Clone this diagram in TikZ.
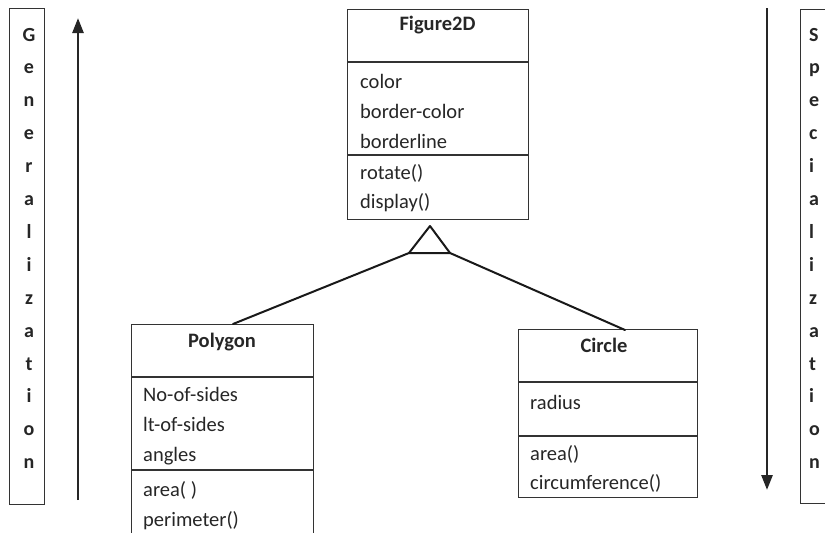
\documentclass[tikz,border=0pt]{standalone}
\usepackage{fontspec}
\setmainfont{Carlito}
\usetikzlibrary{arrows.meta,calc}

\begin{document}
\begin{tikzpicture}[x=1pt,y=-1pt,
  frame/.style={draw=black!80, line width=1.2pt},
  classbox/.style={frame, inner sep=0pt, anchor=north west},
  lbl/.style={inner sep=0pt, anchor=base west, font=\fontsize{20.5}{24}\selectfont, text=black!85},
  ttl/.style={inner sep=0pt, anchor=base, font=\fontsize{20.5}{24}\selectfont\bfseries, text=black!85},
  ltr/.style={inner sep=0pt, font=\fontsize{20}{24}\selectfont\bfseries, text=black!85},
  bigarrow/.style={line width=2.6pt, draw=black!85, -{Triangle[length=15pt,width=11pt]}},
  link/.style={line width=2pt, draw=black!90, line cap=round, line join=round},
]
\useasboundingbox (0,0) rectangle (825,533);
\clip (0,0) rectangle (825,533);

% ---- side panels -------------------------------------------------
\node[classbox, minimum width=35pt, minimum height=496pt] (genbox) at (9,8) {};
\foreach \c [count=\i from 0] in {G,e,n,e,r,a,l,i,z,a,t,i,o,n}
  \node[ltr, anchor=base] (gen\i) at (29, 41+32.9*\i) {\c};

\node[classbox, minimum width=40pt, minimum height=494pt] (specbox) at (800,9) {};
\foreach \c [count=\i from 0] in {S,p,e,c,i,a,l,i,z,a,t,i,o,n}
  \node[ltr, anchor=base west] (spec\i) at (809, 41+32.9*\i) {\c};

\coordinate (genlow) at (78,500);
\coordinate (genhigh) at (78,18);
\draw[bigarrow] (genlow) -- (genhigh);

\coordinate (spechigh) at (767,8);
\coordinate (speclow) at (767,490);
\draw[bigarrow] (spechigh) -- (speclow);

% ---- Figure2D ----------------------------------------------------
\node[classbox, minimum width=181pt, minimum height=210pt] (fig) at (347,9) {};
\draw[frame] (fig.north west) ++(0,53) -- ++(181,0);
\draw[frame] (fig.north west) ++(0,146) -- ++(181,0);
\node[ttl] (figname) at (437.5,30) {Figure2D};
\node[lbl] (figa1) at (360,88) {color};
\node[lbl] (figa2) at (360,118) {border-color};
\node[lbl] (figa3) at (360,148) {borderline};
\node[lbl] (figm1) at (360,179) {rotate()};
\node[lbl] (figm2) at (360,208) {display()};

% ---- Polygon -----------------------------------------------------
\node[classbox, minimum width=182pt, minimum height=230pt] (poly) at (131,324) {};
\draw[frame] (poly.north west) ++(0,53) -- ++(182,0);
\draw[frame] (poly.north west) ++(0,146) -- ++(182,0);
\node[ttl] (polyname) at (222,347) {Polygon};
\node[lbl] (polya1) at (143,401) {No-of-sides};
\node[lbl] (polya2) at (143,431) {lt-of-sides};
\node[lbl] (polya3) at (143,461) {angles};
\node[lbl] (polym1) at (143,496) {area( )};
\node[lbl] (polym2) at (143,526) {perimeter()};

% ---- Circle ------------------------------------------------------
\node[classbox, minimum width=179pt, minimum height=168pt] (circ) at (518,329) {};
\draw[frame] (circ.north west) ++(0,53) -- ++(179,0);
\draw[frame] (circ.north west) ++(0,107) -- ++(179,0);
\node[ttl] (circname) at (604,352) {Circle};
\node[lbl] (circa1) at (530,409) {radius};
\node[lbl] (circm1) at (530,460) {area()};
\node[lbl] (circm2) at (530,489) {circumference()};

% ---- generalisation triangle and links ----------------------------
\coordinate (apex) at (430,226);
\coordinate (baseL) at (409,253);
\coordinate (baseR) at (450,253);
\coordinate (polyjoin) at (233,324);
\coordinate (circjoin) at (625,330);
\draw[link] (apex) -- (baseL) -- (baseR) -- cycle;
\draw[link] (baseL) -- (polyjoin);
\draw[link] (baseR) -- (circjoin);
\end{tikzpicture}
\end{document}
